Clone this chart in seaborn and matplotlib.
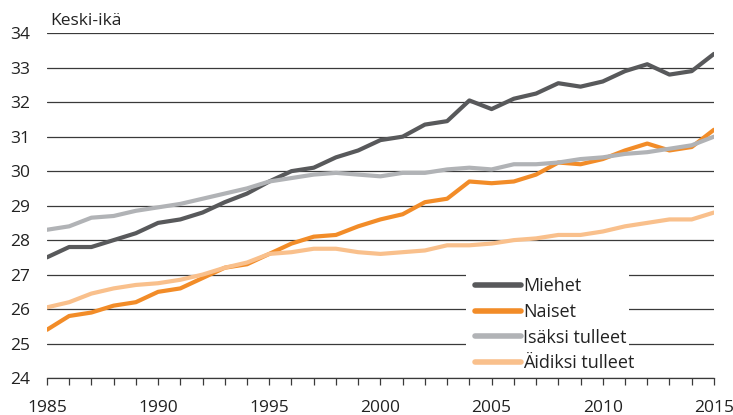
import seaborn as sns
import matplotlib.pyplot as plt
import matplotlib.patches as mpatches
import pandas as pd

# Data
vuodet = list(range(1985, 2016))
miehet = [27.5, 27.8, 27.8, 28.0, 28.2, 28.5, 28.6, 28.8, 29.1, 29.35,
          29.7, 30.0, 30.1, 30.4, 30.6, 30.9, 31.0, 31.35, 31.45, 32.05,
          31.8, 32.1, 32.25, 32.55, 32.45, 32.6, 32.9, 33.1, 32.8, 32.9, 33.4]
naiset = [25.4, 25.8, 25.9, 26.1, 26.2, 26.5, 26.6, 26.9, 27.2, 27.3,
          27.6, 27.9, 28.1, 28.15, 28.4, 28.6, 28.75, 29.1, 29.2, 29.7,
          29.65, 29.7, 29.9, 30.25, 30.2, 30.35, 30.6, 30.8, 30.6, 30.7, 31.2]
isaksi = [28.3, 28.4, 28.65, 28.7, 28.85, 28.95, 29.05, 29.2, 29.35, 29.5,
          29.7, 29.8, 29.9, 29.95, 29.9, 29.85, 29.95, 29.95, 30.05, 30.1,
          30.05, 30.2, 30.2, 30.25, 30.35, 30.4, 30.5, 30.55, 30.65, 30.75, 31.0]
aidiksi = [26.05, 26.2, 26.45, 26.6, 26.7, 26.75, 26.85, 27.0, 27.2, 27.35,
           27.6, 27.65, 27.75, 27.75, 27.65, 27.6, 27.65, 27.7, 27.85, 27.85,
           27.9, 28.0, 28.05, 28.15, 28.15, 28.25, 28.4, 28.5, 28.6, 28.6, 28.8]
sarjat = ['Miehet', 'Naiset', 'Isäksi tulleet', 'Äidiksi tulleet']
varit = ['#58595b', '#f28c28', '#b1b3b6', '#f9c08c']

df = pd.DataFrame({
    'vuosi': vuodet * 4,
    'ika': miehet + naiset + isaksi + aidiksi,
    'sarja': [s for s in sarjat for _ in vuodet],
})

sns.set_style('white')
plt.rcParams['font.family'] = ['Open Sans', 'DejaVu Sans']

fig, ax = plt.subplots(figsize=(7.33, 4.15), dpi=100)
fig.subplots_adjust(left=0.064, right=0.974, top=0.92, bottom=0.089)

sns.lineplot(data=df, x='vuosi', y='ika', hue='sarja', hue_order=sarjat,
             palette=varit, linewidth=3, ax=ax, zorder=3)

ax.set_xlim(1985, 2015)
ax.set_ylim(24, 34)
ax.set_yticks(range(24, 35))
ax.set_xticks(range(1985, 2016, 5))
ax.set_xticks(vuodet, minor=True)
ax.yaxis.grid(True, color='#3a3a3a', linewidth=0.9)
ax.set_axisbelow(True)
for s in ['top', 'right', 'left']:
    ax.spines[s].set_visible(False)
ax.spines['bottom'].set_color('#3a3a3a')
ax.spines['bottom'].set_linewidth(0.9)
ax.tick_params(axis='x', which='both', direction='out', length=5, width=0.9,
               color='#3a3a3a', bottom=True, labelsize=12.5, pad=11,
               labelcolor='#222222')
ax.tick_params(axis='y', length=0, labelsize=12.5, pad=12, labelcolor='#222222')
ax.set_xlabel('')
ax.set_ylabel('')
ax.text(0.005, 1.024, 'Keski-ikä', transform=ax.transAxes, fontsize=12.5,
        ha='left', va='baseline', color='#222222')

# white patch behind legend that interrupts the gridlines
ax.add_patch(mpatches.Rectangle((0.628, 0.01), 0.245, 0.33,
                                transform=ax.transAxes, facecolor='white',
                                edgecolor='none', zorder=1))

leg = ax.legend(loc='upper left', bbox_to_anchor=(0.642, 0.292), frameon=False,
                fontsize=13, handlelength=2.55, handletextpad=0.1,
                labelspacing=0.42, borderpad=0, borderaxespad=0)
for line in leg.get_lines():
    line.set_linewidth(4)
    line.set_solid_capstyle('round')
for t in leg.get_texts():
    t.set_color('#222222')

plt.savefig('out.png', dpi=100)
